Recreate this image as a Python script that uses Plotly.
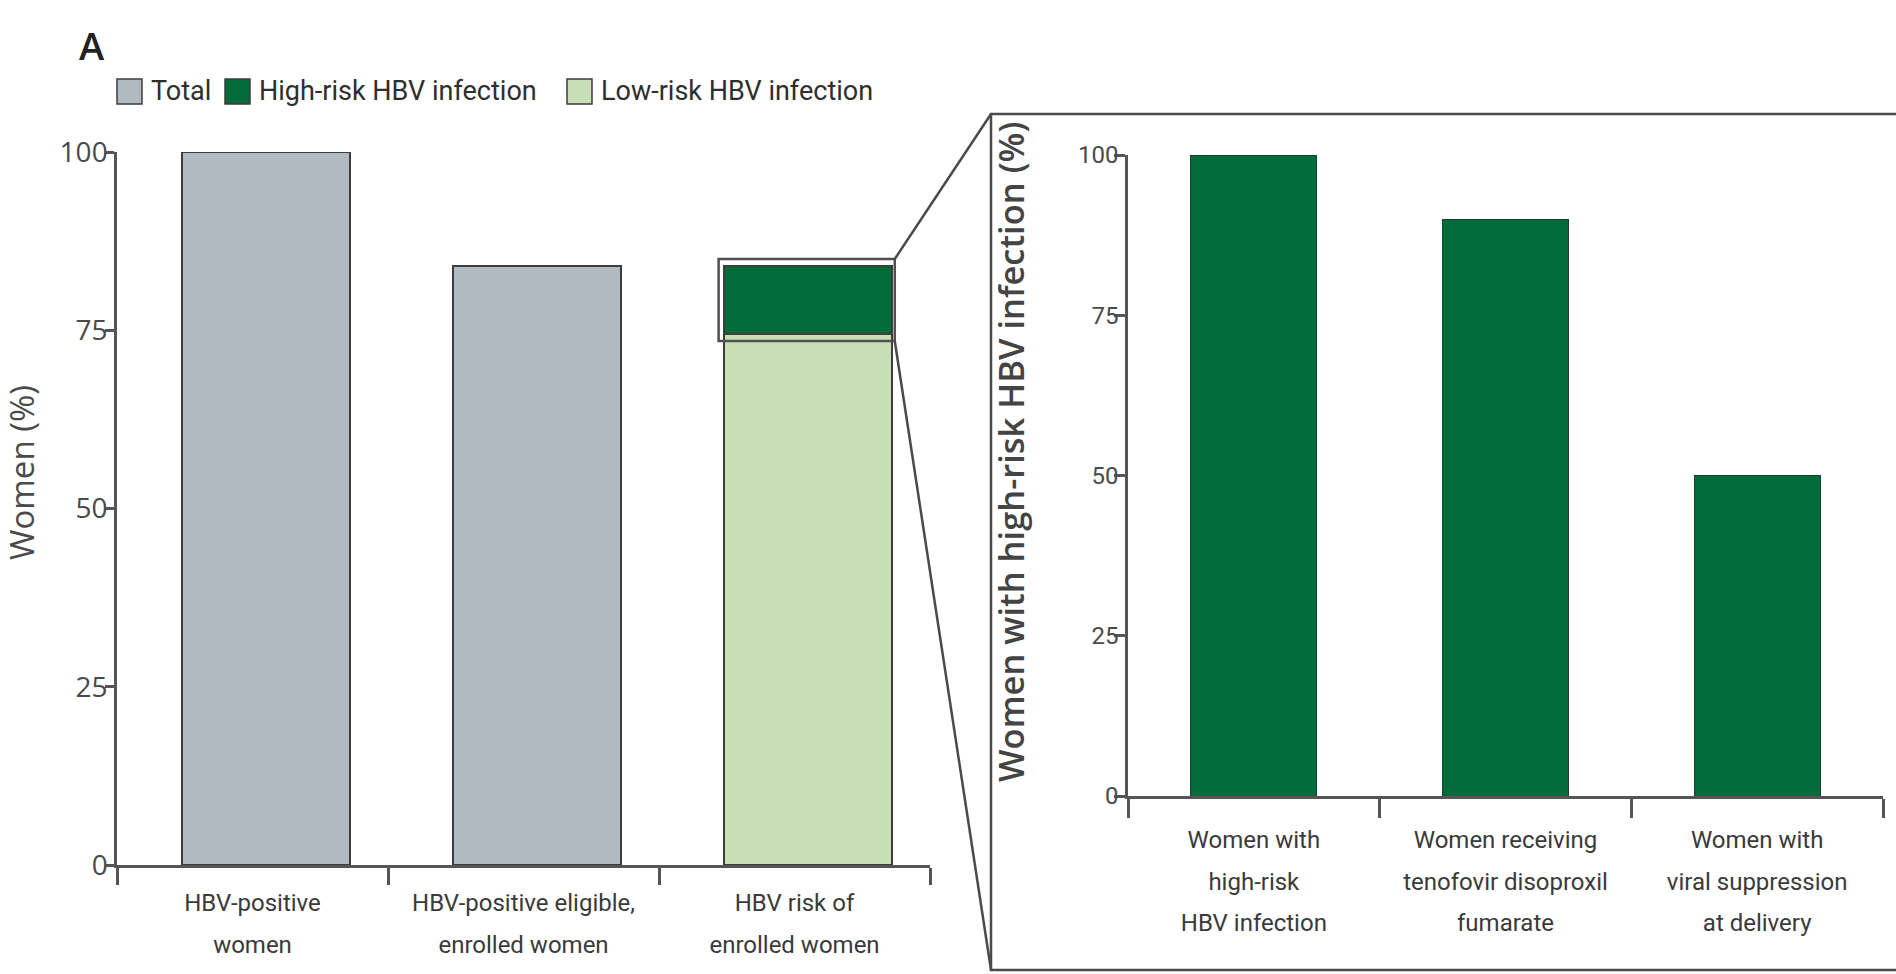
import plotly.graph_objects as go

# ---- data -------------------------------------------------------------
cascade_labels = ["HBV-positive<br>women",
                  "HBV-positive eligible,<br>enrolled women",
                  "HBV risk of<br>enrolled women"]
total_pct = [100, 84]          # first two cascade steps
low_risk_pct = [74.5]          # enrolled women, low-risk HBV infection
high_risk_pct = [9.5]          # enrolled women, high-risk HBV infection

highrisk_labels = ["Women with<br>high-risk<br>HBV infection",
                   "Women receiving<br>tenofovir disoproxil<br>fumarate",
                   "Women with<br>viral suppression<br>at delivery"]
highrisk_pct = [100, 90, 50]

legend_names = ["Total", "High-risk HBV infection", "Low-risk HBV infection"]
y_ticks = [0, 25, 50, 75, 100]
left_title = "Women (%)"
right_title = "Women with high-risk HBV infection (%)"

# ---- styling ----------------------------------------------------------
W, H = 1896, 974
GREY = "#b2bac1"
DARK_GREEN = "#016b3a"
LIGHT_GREEN = "#c8dfb5"
EDGE = "#3d3d3d"
AXIS = "#555555"
TEXT = "#3a3a3a"
NARROW = "Roboto, Liberation Sans Narrow, sans-serif"
REGULAR = "Open Sans, Noto Sans, sans-serif"
LABEL_PX = 24        # glyph size of category labels
LABEL_LEADING = 32   # font size that sets the spacing between label lines

# plot areas in paper fractions
L_DOM_X = [117 / W, 930 / W]
L_DOM_Y = [1 - 865 / H, 1 - 152 / H]
R_DOM_X = [1128 / W, 1883 / W]
R_DOM_Y = [1 - 796 / H, 1 - 155 / H]
L_RANGE_X = [-0.5, 2.5]
BAR_W = 0.62
BAR_SHIFT = 0.05

fig = go.Figure()

left_x = list(range(len(cascade_labels)))
fig.add_trace(go.Bar(x=left_x[:2], y=total_pct, name=legend_names[0],
                     marker=dict(color=GREY, line=dict(color=EDGE, width=2)),
                     width=BAR_W, offset=-BAR_W / 2 + BAR_SHIFT,
                     showlegend=False, xaxis="x", yaxis="y"))
fig.add_trace(go.Bar(x=left_x[2:], y=low_risk_pct, name=legend_names[2],
                     marker=dict(color=LIGHT_GREEN, line=dict(color=EDGE, width=2)),
                     width=BAR_W, offset=-BAR_W / 2 + BAR_SHIFT,
                     showlegend=False, xaxis="x", yaxis="y"))
fig.add_trace(go.Bar(x=left_x[2:], y=high_risk_pct, name=legend_names[1],
                     marker=dict(color=DARK_GREEN, line=dict(color=EDGE, width=2)),
                     width=BAR_W, offset=-BAR_W / 2 + BAR_SHIFT,
                     showlegend=False, xaxis="x", yaxis="y"))

right_x = list(range(len(highrisk_labels)))
fig.add_trace(go.Bar(x=right_x, y=highrisk_pct, name="High-risk cascade",
                     marker=dict(color=DARK_GREEN, line=dict(color="#1f3d2b", width=1)),
                     width=0.5, showlegend=False, xaxis="x2", yaxis="y2"))


def styled(label):
    # small glyphs, generous leading
    return "<br>".join(f"<span style='font-size:{LABEL_PX}px'>{part}</span>"
                       for part in label.split("<br>"))


def tick_axis(domain, labels, label_len, tick_len):
    return dict(domain=domain, range=[-0.5, len(labels) - 0.5], showgrid=False,
                zeroline=False, showline=True, linecolor=AXIS, linewidth=2.5,
                automargin=False,
                tickvals=list(range(len(labels))), ticktext=[styled(t) for t in labels],
                ticks="outside", ticklen=label_len, tickcolor="rgba(0,0,0,0)",
                tickfont=dict(family=NARROW, size=LABEL_LEADING, color=TEXT),
                minor=dict(tickvals=[i - 0.5 for i in range(len(labels) + 1)],
                           ticks="outside", ticklen=tick_len, tickwidth=2.5,
                           tickcolor=AXIS))


def value_axis(domain, anchor, ticklen, font, standoff):
    return dict(domain=domain, anchor=anchor, range=[0, 100], showgrid=False,
                zeroline=False, showline=True, linecolor=AXIS, linewidth=2.5,
                automargin=False,
                tickvals=y_ticks, ticks="outside", ticklen=ticklen,
                tickwidth=2.5, tickcolor=AXIS, tickfont=font,
                ticklabelstandoff=standoff)


fig.update_layout(
    width=W, height=H, margin=dict(l=0, r=0, t=0, b=0, autoexpand=False),
    paper_bgcolor="white", plot_bgcolor="white",
    barmode="stack", showlegend=False,
    xaxis=dict(tick_axis(L_DOM_X, cascade_labels, 5, 17), anchor="y"),
    yaxis=value_axis(L_DOM_Y, "x", 9,
                     dict(family=REGULAR, size=28, color="#4a4a4a"), -8),
    xaxis2=dict(tick_axis(R_DOM_X, highrisk_labels, 11, 19), anchor="y2"),
    yaxis2=value_axis(R_DOM_Y, "x2", 11,
                      dict(family=NARROW, size=24, color="#4a4a4a"), -9),
)

# axis titles
fig.add_annotation(text=left_title, xref="paper", yref="paper",
                   x=22 / W, y=1 - 473 / H, textangle=-90, showarrow=False,
                   xanchor="center", yanchor="middle",
                   font=dict(family=REGULAR, size=33, color="#4a4a4a"))
fig.add_annotation(text=right_title, xref="paper", yref="paper",
                   x=1010 / W, y=1 - 452 / H, textangle=-90, showarrow=False,
                   xanchor="center", yanchor="middle",
                   font=dict(family=REGULAR, size=34.5, color="#444444", weight=600))


# ---- helpers mapping left-panel data to paper coordinates --------------
def lx(v):
    f = (v - L_RANGE_X[0]) / (L_RANGE_X[1] - L_RANGE_X[0])
    return L_DOM_X[0] + f * (L_DOM_X[1] - L_DOM_X[0])


def ly(v):
    return L_DOM_Y[0] + v / 100 * (L_DOM_Y[1] - L_DOM_Y[0])


# highlight box around the high-risk segment
seg_x = left_x[2]
box_x0 = seg_x - BAR_W / 2 + BAR_SHIFT - 0.02
box_x1 = seg_x + BAR_W / 2 + BAR_SHIFT + 0.01
box_y0 = low_risk_pct[0] - 1.0
box_y1 = low_risk_pct[0] + high_risk_pct[0] + 1.0
fig.add_shape(type="rect", xref="x", yref="y", x0=box_x0, x1=box_x1,
              y0=box_y0, y1=box_y1, line=dict(color="#505050", width=2.5),
              layer="above")

# zoom frame around the right-hand panel
frame_l, frame_t, frame_b = 991 / W, 1 - 114 / H, 1 - 970 / H
fig.add_shape(type="path", xref="paper", yref="paper",
              path=f"M 1.01,{frame_t} L {frame_l},{frame_t} L {frame_l},{frame_b} L 1.01,{frame_b}",
              line=dict(color="#4a4a4a", width=2.5))
fig.add_shape(type="line", xref="paper", yref="paper",
              x0=lx(box_x1), y0=ly(box_y1), x1=frame_l, y1=frame_t,
              line=dict(color="#4a4a4a", width=2.5))
fig.add_shape(type="line", xref="paper", yref="paper",
              x0=lx(box_x1), y0=ly(box_y0), x1=frame_l, y1=frame_b,
              line=dict(color="#4a4a4a", width=2.5))

# panel letter
fig.add_annotation(text="A", xref="paper", yref="paper", x=77 / W, y=1 - 45 / H,
                   xanchor="left", yanchor="middle", showarrow=False,
                   font=dict(family=REGULAR, size=38, color="#222222", weight=600))

# legend
legend_items = [(legend_names[0], GREY, 117),
                (legend_names[1], DARK_GREEN, 225),
                (legend_names[2], LIGHT_GREEN, 567)]
for name, color, px in legend_items:
    fig.add_shape(type="rect", xref="paper", yref="paper",
                  x0=px / W, x1=(px + 25) / W, y0=1 - 104 / H, y1=1 - 79 / H,
                  line=dict(color=EDGE, width=1.5), fillcolor=color)
    fig.add_annotation(text=name, xref="paper", yref="paper",
                       x=(px + 32) / W, y=1 - 91 / H, xanchor="left", yanchor="middle",
                       showarrow=False, font=dict(family=NARROW, size=27, color="#2e2e2e"))

fig.write_html("out.html")
